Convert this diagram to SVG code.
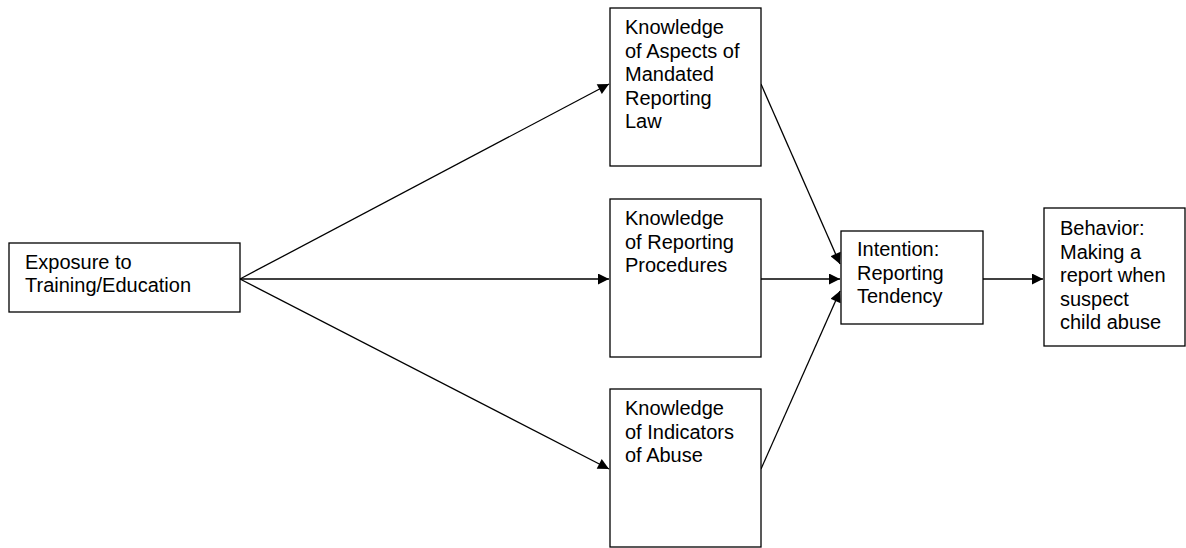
<svg xmlns="http://www.w3.org/2000/svg" width="1186" height="548" viewBox="0 0 1186 548">
<defs>
<style>
.box{fill:#fff;stroke:#000;stroke-width:1.3}
.t{font-family:"Liberation Sans",Arial,sans-serif;font-size:20px;fill:#000}
.c{stroke:#000;stroke-width:1.3;fill:none;marker-end:url(#ah)}
</style>
<marker id="ah" viewBox="0 0 10 10" refX="10" refY="5" markerWidth="13" markerHeight="11" markerUnits="userSpaceOnUse" orient="auto">
<path d="M0,0 L10,5 L0,10 z" fill="#000"/>
</marker>
</defs>
<rect width="1186" height="548" fill="#fff"/>
<g id="connectors">
<line class="c" x1="240" y1="279" x2="609" y2="84"/>
<line class="c" x1="240" y1="279" x2="609" y2="279"/>
<line class="c" x1="240" y1="279" x2="609" y2="469"/>
<line class="c" x1="761" y1="84" x2="840" y2="264"/>
<line class="c" x1="761" y1="279" x2="840" y2="279"/>
<line class="c" x1="761" y1="469" x2="840" y2="291"/>
<line class="c" x1="983" y1="279" x2="1043" y2="279"/>
</g>
<g id="n-exposure">
<rect class="box" x="9" y="243" width="231" height="69"/>
<text class="t" x="25" y="269">Exposure to</text>
<text class="t" x="25" y="292">Training/Education</text>
</g>
<g id="n-aspects">
<rect class="box" x="610" y="8" width="151" height="158"/>
<text class="t" x="625" y="34">Knowledge</text>
<text class="t" x="625" y="58">of Aspects of</text>
<text class="t" x="625" y="81">Mandated</text>
<text class="t" x="625" y="105">Reporting</text>
<text class="t" x="625" y="128">Law</text>
</g>
<g id="n-procedures">
<rect class="box" x="610" y="199" width="151" height="158"/>
<text class="t" x="625" y="225">Knowledge</text>
<text class="t" x="625" y="249">of Reporting</text>
<text class="t" x="625" y="272">Procedures</text>
</g>
<g id="n-indicators">
<rect class="box" x="610" y="389" width="151" height="158"/>
<text class="t" x="625" y="415">Knowledge</text>
<text class="t" x="625" y="439">of Indicators</text>
<text class="t" x="625" y="462">of Abuse</text>
</g>
<g id="n-intention">
<rect class="box" x="841" y="231" width="142" height="93"/>
<text class="t" x="857" y="256">Intention:</text>
<text class="t" x="857" y="280">Reporting</text>
<text class="t" x="857" y="303">Tendency</text>
</g>
<g id="n-behavior">
<rect class="box" x="1044" y="208" width="141" height="138"/>
<text class="t" x="1060" y="235">Behavior:</text>
<text class="t" x="1060" y="259">Making a</text>
<text class="t" x="1060" y="282">report when</text>
<text class="t" x="1060" y="306">suspect</text>
<text class="t" x="1060" y="329">child abuse</text>
</g>
</svg>
